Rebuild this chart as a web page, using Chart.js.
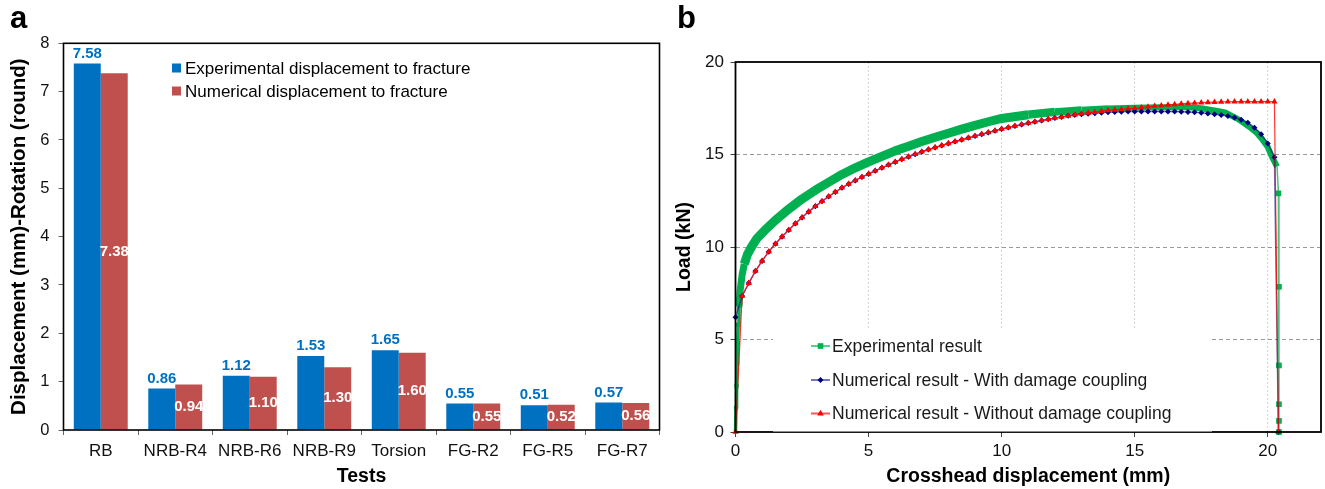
<!DOCTYPE html>
<html>
<head>
<meta charset="utf-8">
<title>Displacement to fracture and load-displacement curves</title>
<script src="https://cdn.jsdelivr.net/npm/chart.js@4.4.1/dist/chart.umd.min.js"></script>
<style>
  html, body { margin: 0; padding: 0; background: #fff; }
  #page { position: relative; width: 1325px; height: 489px; overflow: hidden; }
  canvas { position: absolute; top: 0; }
  #barChart { left: 0; }
  #curveChart { left: 665px; }
  .panel { position: absolute; top: 2px; font: bold 31px Arial, "Liberation Sans", sans-serif; line-height: 31px; color: #000; }
</style>
</head>
<body>
<div id="page">
  <canvas id="barChart" width="665" height="489"></canvas>
  <canvas id="curveChart" width="660" height="489"></canvas>
  <div class="panel" style="left:10px">a</div>
  <div class="panel" style="left:677px">b</div>
</div>
<script>
var FONT = 'Arial, "Liberation Sans", sans-serif';

// Panel a: displacement (or rotation) to fracture per test.
var tests = ['RB', 'NRB-R4', 'NRB-R6', 'NRB-R9', 'Torsion', 'FG-R2', 'FG-R5', 'FG-R7'];
var expFracture = [7.58, 0.86, 1.12, 1.53, 1.65, 0.55, 0.51, 0.57];
var numFracture = [7.38, 0.94, 1.10, 1.30, 1.60, 0.55, 0.52, 0.56];

// Panel b: experimental load curve.
var expX = [0, 0.02, 0.04, 0.06, 0.08, 0.1, 0.13, 0.17, 0.25, 0.33, 0.45, 0.6, 0.8, 1.1, 1.5, 2, 2.5, 3, 3.5, 4, 4.5,
    5, 5.5, 6, 6.5, 7, 7.5, 8, 8.5, 9, 9.5, 10, 11, 12, 13, 14, 15, 16, 17, 17.5, 18, 18.4, 18.9, 19.3, 19.6,
    19.8, 20.0, 20.1, 20.2, 20.35, 20.4, 20.42, 20.42, 20.42, 20.42, 20.42];
var expY = [0, 1.3, 2.5, 3.7, 4.8, 5.8, 6.8, 7.6, 8.5, 9.08, 9.6, 10.0, 10.45, 10.9, 11.45, 12.05, 12.6, 13.07, 13.5, 13.92, 14.28,
    14.6, 14.9, 15.2, 15.45, 15.7, 15.93, 16.15, 16.37, 16.57, 16.77, 16.95, 17.15, 17.3, 17.4, 17.48, 17.53, 17.56, 17.55, 17.5, 17.38, 17.27, 16.9, 16.5, 16.15,
    15.8, 15.4, 15.06, 14.75, 14.34, 12.9, 7.85, 3.6, 1.5, 0.6, 0];

// Panel b: numerical curves (same displacement steps).
var numX = [0, 0.25, 0.5, 0.75, 1, 1.25, 1.5, 1.75, 2, 2.25, 2.5, 2.75, 3, 3.25, 3.5, 3.75, 4, 4.25, 4.5, 4.75,
    5, 5.25, 5.5, 5.75, 6, 6.25, 6.5, 6.75, 7, 7.25, 7.5, 7.75, 8, 8.25, 8.5, 8.75, 9, 9.25, 9.5, 9.75,
    10, 10.25, 10.5, 10.75, 11, 11.25, 11.5, 11.75, 12, 12.25, 12.5, 12.75, 13, 13.25, 13.5, 13.75, 14, 14.25, 14.5, 14.75,
    15, 15.25, 15.5, 15.75, 16, 16.25, 16.5, 16.75, 17, 17.25, 17.5, 17.75, 18, 18.25, 18.5, 18.75, 19, 19.25, 19.5, 19.75,
    20, 20.25, 20.4];
var withDamageY = [6.2, 7.35, 8.05, 8.7, 9.25, 9.75, 10.17, 10.56, 10.92, 11.27, 11.6, 11.91, 12.2, 12.47, 12.73, 12.97, 13.2, 13.41, 13.6, 13.78,
    13.95, 14.12, 14.28, 14.44, 14.6, 14.74, 14.88, 15.02, 15.15, 15.27, 15.38, 15.49, 15.6, 15.7, 15.8, 15.9, 16.0, 16.1, 16.19, 16.29,
    16.38, 16.46, 16.54, 16.62, 16.7, 16.77, 16.84, 16.91, 16.97, 17.03, 17.09, 17.13, 17.17, 17.2, 17.23, 17.26, 17.28, 17.3, 17.31, 17.32,
    17.32, 17.33, 17.33, 17.33, 17.33, 17.33, 17.32, 17.31, 17.3, 17.28, 17.26, 17.22, 17.18, 17.14, 17.08, 17.0, 16.88, 16.72, 16.45, 16.1,
    15.6, 14.85, 0];
var noDamageY = [0, 7.35, 8.05, 8.7, 9.25, 9.75, 10.17, 10.56, 10.92, 11.27, 11.6, 11.91, 12.2, 12.47, 12.73, 12.97, 13.2, 13.41, 13.6, 13.78,
    13.95, 14.12, 14.28, 14.44, 14.6, 14.74, 14.88, 15.02, 15.15, 15.27, 15.38, 15.49, 15.6, 15.7, 15.8, 15.9, 16.0, 16.1, 16.19, 16.29,
    16.38, 16.46, 16.54, 16.62, 16.7, 16.77, 16.84, 16.91, 16.97, 17.03, 17.09, 17.15, 17.2, 17.25, 17.29, 17.34, 17.38, 17.41, 17.44, 17.47,
    17.5, 17.54, 17.58, 17.62, 17.65, 17.68, 17.71, 17.74, 17.76, 17.78, 17.8, 17.82, 17.83, 17.84, 17.85, 17.86, 17.86, 17.86, 17.86, 17.86,
    17.86, 17.86, 0];

function pairs(xs, ys) {
    return xs.map(function(x, i) { return {x: x, y: ys[i]}; });
}

function frame(width) {
    return {
        id: 'frame',
        afterDatasetsDraw: function(chart) {
            var ctx = chart.ctx, a = chart.chartArea;
            ctx.save();
            ctx.strokeStyle = '#000';
            ctx.lineWidth = width;
            ctx.strokeRect(a.left, a.top, a.right - a.left, a.bottom - a.top);
            ctx.restore();
        }
    };
}

function marker(ctx, style, x, y, r) {
    ctx.beginPath();
    if (style === 'rect') {
        var s = r * Math.SQRT1_2;
        ctx.rect(x - s, y - s, 2 * s, 2 * s);
    } else if (style === 'rectRot') {
        ctx.moveTo(x, y - r); ctx.lineTo(x + r, y); ctx.lineTo(x, y + r); ctx.lineTo(x - r, y); ctx.closePath();
    } else {
        ctx.moveTo(x, y - r); ctx.lineTo(x + r * 0.866, y + r * 0.5); ctx.lineTo(x - r * 0.866, y + r * 0.5); ctx.closePath();
    }
    ctx.fill();
}

// Value labels: blue above the experimental bar, white inside the numerical bar.
var barValues = {
    id: 'barValues',
    afterDatasetsDraw: function(chart) {
        var ctx = chart.ctx;
        ctx.save();
        ctx.font = 'bold 15px ' + FONT;
        ctx.textAlign = 'center';
        ctx.textBaseline = 'middle';
        chart.getDatasetMeta(0).data.forEach(function(bar, i) {
            ctx.fillStyle = '#0070C0';
            ctx.fillText(expFracture[i].toFixed(2), bar.x, bar.y - 10);
        });
        chart.getDatasetMeta(1).data.forEach(function(bar, i) {
            ctx.fillStyle = '#fff';
            ctx.fillText(numFracture[i].toFixed(2), bar.x, (bar.y + bar.base) / 2);
        });
        ctx.restore();
    }
};

var legendA = {
    id: 'legendA',
    afterDraw: function(chart) {
        var ctx = chart.ctx;
        ctx.save();
        ctx.font = '17px ' + FONT;
        ctx.textAlign = 'left';
        ctx.textBaseline = 'middle';
        chart.data.datasets.forEach(function(ds, i) {
            var y = 68 + i * 23;
            ctx.fillStyle = ds.backgroundColor;
            ctx.fillRect(172, y - 4.5, 9, 9);
            ctx.fillStyle = '#000';
            ctx.fillText(ds.label, 185, y + 1);
        });
        ctx.restore();
    }
};

var legendB = {
    id: 'legendB',
    afterDraw: function(chart) {
        var ctx = chart.ctx;
        var rows = [346, 380, 413.5];
        ctx.save();
        ctx.fillStyle = '#fff';
        ctx.fillRect(108, 328, 439, 103.5);
        ctx.font = '17.5px ' + FONT;
        ctx.textAlign = 'left';
        ctx.textBaseline = 'middle';
        chart.data.datasets.forEach(function(ds, i) {
            var y = rows[i];
            ctx.strokeStyle = ds.legendLine;
            ctx.lineWidth = 2;
            ctx.beginPath();
            ctx.moveTo(146, y);
            ctx.lineTo(165, y);
            ctx.stroke();
            ctx.fillStyle = ds.pointBackgroundColor;
            marker(ctx, ds.pointStyle, 155.5, y, ds.legendRadius);
            ctx.fillStyle = '#1a1a1a';
            ctx.fillText(ds.label, 167, y + 1);
        });
        ctx.restore();
    }
};

// Panel a: bar chart.
new Chart(document.getElementById('barChart'), {
    type: 'bar',
    data: {
        labels: tests,
        datasets: [{
            label: 'Experimental displacement to fracture',
            data: expFracture,
            backgroundColor: '#0070C0',
            categoryPercentage: 0.724,
            barPercentage: 1.0
        }, {
            label: 'Numerical displacement to fracture',
            data: numFracture,
            backgroundColor: '#C0504D',
            categoryPercentage: 0.724,
            barPercentage: 1.0
        }]
    },
    options: {
        responsive: false,
        animation: false,
        events: [],
        layout: { padding: { top: 43.3, right: 5.5, left: 0, bottom: 0 } },
        plugins: { legend: { display: false }, tooltip: { enabled: false } },
        scales: {
            x: {
                grid: { drawOnChartArea: false, tickLength: 5, tickColor: '#666', offset: true },
                border: { display: false },
                ticks: { font: { family: FONT, size: 17 }, color: '#111', padding: 5.8, maxRotation: 0, autoSkip: false },
                title: { display: true, text: 'Tests', color: '#000',
                    font: { family: FONT, size: 19.5, weight: 'bold' }, padding: { top: 0, bottom: 0.3 } },
                afterFit: function(s) { s.height = 59; }
            },
            y: {
                min: 0,
                max: 8,
                grid: { drawOnChartArea: false, tickLength: 5, tickColor: '#666' },
                border: { display: false },
                ticks: { stepSize: 1, font: { family: FONT, size: 16.5 }, color: '#111', padding: 9 },
                title: { display: true, text: 'Displacement (mm)-Rotation (round)', color: '#000',
                    font: { family: FONT, size: 20.5, weight: 'bold' }, padding: { top: 6.7, bottom: 0 } },
                afterFit: function(s) { s.width = 63.5; }
            }
        }
    },
    plugins: [frame(1.6), barValues, legendA]
});

// Panel b: load vs crosshead displacement.
new Chart(document.getElementById('curveChart'), {
    type: 'line',
    data: {
        datasets: [{
            label: 'Experimental result',
            data: pairs(expX, expY),
            order: 3,
            clip: false,
            borderColor: '#00B050',
            backgroundColor: '#00B050',
            borderJoinStyle: 'round',
            pointStyle: 'rect',
            pointBackgroundColor: '#00B050',
            pointBorderWidth: 0,
            pointRadius: function(c) {
                var p = c.raw;
                if (p.x >= 20.38) return 4;
                if (p.x < 0.15 && p.y > 0) return 3;
                return 0;
            },
            legendLine: '#5FCB8D',
            legendRadius: 4,
            segment: {
                // the dense markers form a band that narrows on the plateau
                borderWidth: function(c) {
                    var x = c.p0.parsed.x;
                    if (x >= 20.35) return 1.5;
                    if (x < 0.13) return 3.5;
                    if (x < 0.3) return 7;
                    if (x < 10) return 9;
                    if (x < 14) return 9 - (x - 10) * 0.75;
                    return 6;
                },
                borderColor: function(c) {
                    return c.p0.parsed.x >= 20.35 ? '#4CC27F' : '#00B050';
                }
            }
        }, {
            label: 'Numerical result - With damage coupling',
            data: pairs(numX, withDamageY),
            order: 2,
            clip: false,
            borderColor: 'rgba(0,0,128,0.55)',
            borderWidth: 1.5,
            pointStyle: 'rectRot',
            pointRadius: 3,
            pointBackgroundColor: '#000080',
            pointBorderWidth: 0,
            legendLine: '#7777BB',
            legendRadius: 3
        }, {
            label: 'Numerical result - Without damage coupling',
            data: pairs(numX, noDamageY),
            order: 1,
            clip: false,
            borderColor: 'rgba(255,0,0,0.8)',
            borderWidth: 1.2,
            pointStyle: 'triangle',
            pointRadius: 3.6,
            pointBackgroundColor: '#FF0000',
            pointBorderWidth: 0,
            legendLine: '#FF5555',
            legendRadius: 3.8
        }]
    },
    options: {
        responsive: false,
        animation: false,
        events: [],
        layout: { padding: { top: 62, right: 3, left: 0, bottom: 0 } },
        plugins: { legend: { display: false }, tooltip: { enabled: false } },
        scales: {
            x: {
                type: 'linear',
                min: 0,
                max: 22,
                grid: {
                    color: function(c) { return c.tick && c.tick.value === 0 ? 'rgba(0,0,0,0)' : '#d6d6d6'; },
                    tickLength: 5,
                    tickColor: '#444'
                },
                border: { display: false, dash: [2, 2] },
                ticks: { stepSize: 5, includeBounds: false, font: { family: FONT, size: 17 }, color: '#111', padding: 3.8, maxRotation: 0 },
                title: { display: true, text: 'Crosshead displacement (mm)', color: '#000',
                    font: { family: FONT, size: 19.5, weight: 'bold' }, padding: { top: 0, bottom: 0.3 } },
                afterFit: function(s) { s.height = 57; }
            },
            y: {
                min: 0,
                max: 20,
                grid: {
                    color: function(c) { return c.tick && (c.tick.value === 0 || c.tick.value === 20) ? 'rgba(0,0,0,0)' : '#9a9a9a'; },
                    tickLength: 5,
                    tickColor: '#444'
                },
                border: { display: false, dash: [4, 3] },
                ticks: { stepSize: 5, font: { family: FONT, size: 17 }, color: '#111', padding: 6.5 },
                title: { display: true, text: 'Load (kN)', color: '#000',
                    font: { family: FONT, size: 19.5, weight: 'bold' }, padding: { top: 7.8, bottom: 0 } },
                afterFit: function(s) { s.width = 70.5; }
            }
        }
    },
    plugins: [frame(1.8), legendB]
});
</script>
</body>
</html>
